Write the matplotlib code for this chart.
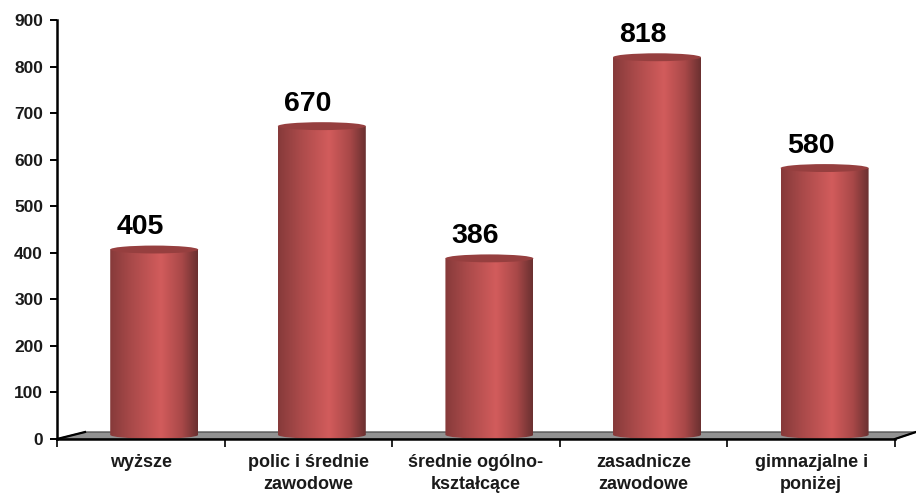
import numpy as np
import matplotlib
matplotlib.use('Agg')
import matplotlib.pyplot as plt
from matplotlib.colors import LinearSegmentedColormap
from matplotlib.patches import Ellipse, Polygon, PathPatch
from matplotlib.path import Path

categories = ["wyższe", "polic i średnie\nzawodowe", "średnie ogólno-\nkształcące",
              "zasadnicze\nzawodowe", "gimnazjalne i\nponiżej"]
values = [405, 670, 386, 818, 580]
yticks = [0, 100, 200, 300, 400, 500, 600, 700, 800, 900]

plt.rcParams['font.family'] = ['Liberation Sans', 'DejaVu Sans']
plt.rcParams['font.weight'] = 'bold'

W, H = 916, 493
fig = plt.figure(figsize=(W / 100, H / 100), dpi=100)
ax = fig.add_axes([57 / W, 1 - 439 / H, 838 / W, 419 / H])
ax.set_xlim(0, 5)
ax.set_ylim(0, 900)

# plancher gris
floor = Polygon([(0, 0), (0.167, 15), (5.125, 15), (5, 0)], closed=True,
                facecolor='#929292', edgecolor='#555555', lw=1, clip_on=False, zorder=1)
ax.add_patch(floor)
ax.plot([5, 5.125], [0, 15], color='black', lw=1.6, clip_on=False, zorder=1)
ax.plot([0, 0.167], [0, 15], color='black', lw=1.6, clip_on=False, zorder=1)

# cylindres
cmap = LinearSegmentedColormap.from_list('cyl', [
    (0.0, '#863a3a'), (0.25, '#aa4a4a'), (0.58, '#d25c5c'),
    (0.82, '#a84848'), (1.0, '#6a3030')])
grad = np.linspace(0, 1, 256).reshape(1, -1)
bw = 0.525
dx = 0.08
ell_h = 17
base = 9

for i, v in enumerate(values):
    x0 = i + 0.5 + dx - bw / 2
    x1 = x0 + bw
    im = ax.imshow(grad, cmap=cmap, aspect='auto', extent=[x0, x1, base - ell_h / 2, v + 2],
                   zorder=3, interpolation='bilinear')
    # bas arrondi du cylindre
    k = 0.5523
    xc = (x0 + x1) / 2
    rx = bw / 2
    ry = ell_h / 2
    verts = [(x0, v + 2), (x0, base), (x0, base - k * ry), (xc - k * rx, base - ry), (xc, base - ry),
             (xc + k * rx, base - ry), (x1, base - k * ry), (x1, base), (x1, v + 2), (x0, v + 2)]
    codes = [Path.MOVETO, Path.LINETO, Path.CURVE4, Path.CURVE4, Path.CURVE4,
             Path.CURVE4, Path.CURVE4, Path.CURVE4, Path.LINETO, Path.CLOSEPOLY]
    clip = PathPatch(Path(verts, codes), transform=ax.transData, facecolor='none', edgecolor='none')
    ax.add_patch(clip)
    im.set_clip_path(clip)
    top = Ellipse((xc, v + 2), bw, ell_h, facecolor='#963f3f', edgecolor='none', zorder=4)
    ax.add_patch(top)
    ax.annotate(str(v), (i + 0.5, v), xytext=(-0.5, 16.7), textcoords='offset points',
                ha='center', va='center', fontsize=20.5, fontweight='bold', color='black',
                annotation_clip=False, zorder=5)

ax.set_xlim(0, 5)
ax.set_ylim(0, 900)

# axes
ax.spines['top'].set_visible(False)
ax.spines['right'].set_visible(False)
ax.spines['left'].set_linewidth(1.8)
ax.spines['bottom'].set_linewidth(1.8)
ax.spines['left'].set_zorder(6)
ax.spines['bottom'].set_zorder(6)
ax.set_yticks(yticks)
ax.tick_params(axis='y', length=5, width=1.4, labelsize=12.5, pad=5)
ax.set_xticks(np.arange(6))
ax.set_xticklabels([])
ax.tick_params(axis='x', which='major', length=5.5, width=1.2)
ax.set_xticks(np.arange(5) + 0.5, minor=True)
ax.set_xticklabels(categories, minor=True, fontsize=13, linespacing=1.4)
ax.tick_params(axis='x', which='minor', length=0, pad=11)
for t in ax.get_yticklabels():
    t.set_color('#1a1a1a')
for t in ax.get_xticklabels(minor=True):
    t.set_color('#1a1a1a')

fig.savefig('out.png', dpi=100)
